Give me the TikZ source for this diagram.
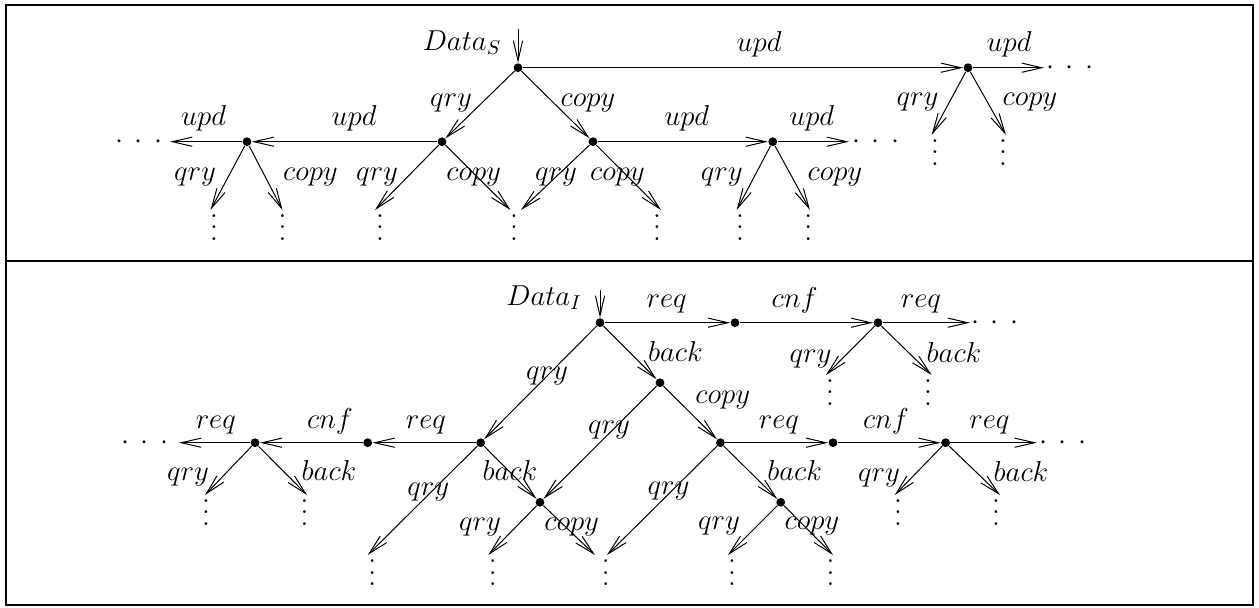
\documentclass[tikz,border=0pt]{standalone}
\usepackage{fix-cm}
\usetikzlibrary{arrows.meta}
\newcommand\myvdots{\vbox{\baselineskip5.75pt\lineskiplimit0pt\hbox{.}\hbox{.}\hbox{.}}}
\newcommand\myhdots{$\cdotp\kern3.5pt\cdotp\kern3.5pt\cdotp$}
\begin{document}
\begin{tikzpicture}[x=0.5pt,y=-0.5pt,
  font=\fontsize{14.4}{17}\selectfont,
  dot/.style={circle,fill,inner sep=0pt,minimum size=4.4pt},
  lbl/.style={inner sep=0pt,anchor=base},
  vd/.style={inner sep=0pt},
  hd/.style={inner sep=0pt,anchor=base},
  arr/.style={-{Straight Barb[length=10pt,width=4.6pt]},line width=0.5pt},
  frame/.style={line width=1.1pt}]
\useasboundingbox (0,0) rectangle (1259,607);
\draw[frame] (6,5) rectangle (1253,605);
\draw[frame] (6,261) -- (1253,261);
% ---------- top panel ----------
\node[dot] (A) at (518,67.7) {};
\node[dot] (B) at (968,67.7) {};
\node[dot] (C) at (442,141.7) {};
\node[dot] (D) at (593,141.7) {};
\node[dot] (E) at (247,141.7) {};
\node[dot] (F) at (772.7,141.7) {};
\coordinate (Ain) at (518,29);
\draw[arr] (Ain) -- (A);
\draw[arr] (A) -- (B);
\draw[arr] (A) -- (C);
\draw[arr] (A) -- (D);
\draw[arr] (C) -- (E);
\draw[arr] (D) -- (F);
\coordinate (Bt) at (1044,67.7); \draw[arr] (B) -- (Bt);
\node[hd] (Bd) at (1070,74.9) {\myhdots};
\coordinate (Et) at (170,141.7); \draw[arr] (E) -- (Et);
\node[hd] (Ed) at (139,148.9) {\myhdots};
\coordinate (Ft) at (849,141.7); \draw[arr] (F) -- (Ft);
\node[hd] (Fd) at (876,148.9) {\myhdots};
% leaves top
\coordinate (Bq) at (931.6,135); \draw[arr] (B) -- (Bq); \node[vd] (vBq) at (935,152.5) {\myvdots};
\coordinate (Bc) at (1006,135); \draw[arr] (B) -- (Bc); \node[vd] (vBc) at (1003,152.5) {\myvdots};
\coordinate (Eq) at (210.5,210); \draw[arr] (E) -- (Eq); \node[vd] (vEq) at (214,227.5) {\myvdots};
\coordinate (Ec) at (282.5,210); \draw[arr] (E) -- (Ec); \node[vd] (vEc) at (282.5,227.5) {\myvdots};
\coordinate (Cq) at (375,210); \draw[arr] (C) -- (Cq); \node[vd] (vCq) at (380,227.5) {\myvdots};
\coordinate (Cc) at (510.5,210); \draw[arr] (C) -- (Cc); \node[vd] (vCc) at (514,227.5) {\myvdots};
\coordinate (Dq) at (521,210); \draw[arr] (D) -- (Dq);
\coordinate (Dc) at (661,210); \draw[arr] (D) -- (Dc); \node[vd] (vDc) at (657,227.5) {\myvdots};
\coordinate (Fq) at (736.7,210); \draw[arr] (F) -- (Fq); \node[vd] (vFq) at (740,227.5) {\myvdots};
\coordinate (Fc) at (810,210); \draw[arr] (F) -- (Fc); \node[vd] (vFc) at (808.3,227.5) {\myvdots};
% labels top
\node[lbl] (tDS) at (462,50) {$Data_S$};
\node[lbl] (t1) at (759,51.7) {$upd$};
\node[lbl] (t2) at (1009,51.7) {$upd$};
\node[lbl] (t3) at (917.5,105) {$qry$};
\node[lbl] (t4) at (1030,105) {$copy$};
\node[lbl] (t5) at (451,106) {$qry$};
\node[lbl] (t6) at (588,106) {$copy$};
\node[lbl] (t7) at (354,125) {$upd$};
\node[lbl] (t8) at (203.5,125) {$upd$};
\node[lbl] (t9) at (686.7,125) {$upd$};
\node[lbl] (t10) at (811.7,125) {$upd$};
\node[lbl] (t11) at (195,180) {$qry$};
\node[lbl] (t12) at (310.5,180) {$copy$};
\node[lbl] (t13) at (377,180) {$qry$};
\node[lbl] (t14) at (473.7,180) {$copy$};
\node[lbl] (t15) at (556,180) {$qry$};
\node[lbl] (t16) at (617.5,180) {$copy$};
\node[lbl] (t17) at (721.7,180) {$qry$};
\node[lbl] (t18) at (835,180) {$copy$};
% ---------- bottom panel ----------
\node[dot] (R) at (600,322.7) {};
\node[dot] (G) at (735,322.7) {};
\node[dot] (H) at (878,322.7) {};
\node[dot] (K) at (660,382.7) {};
\node[dot] (J) at (480.7,442.7) {};
\node[dot] (L) at (540,502.3) {};
\node[dot] (M) at (720.4,442.7) {};
\node[dot] (N) at (367.7,442.7) {};
\node[dot] (O) at (255,442.7) {};
\node[dot] (P) at (780.7,502.3) {};
\node[dot] (Q) at (833,442.7) {};
\node[dot] (S) at (945.6,442.7) {};
\coordinate (Rin) at (600,290);
\draw[arr] (Rin) -- (R);
\draw[arr] (R) -- (G);
\draw[arr] (G) -- (H);
\draw[arr] (R) -- (J);
\draw[arr] (R) -- (K);
\draw[arr] (K) -- (L);
\draw[arr] (K) -- (M);
\draw[arr] (J) -- (N);
\draw[arr] (N) -- (O);
\draw[arr] (J) -- (L);
\draw[arr] (M) -- (P);
\draw[arr] (M) -- (Q);
\draw[arr] (Q) -- (S);
\coordinate (Ht) at (970,322.7); \draw[arr] (H) -- (Ht);
\node[hd] (Hd) at (995,329.9) {\myhdots};
\coordinate (Ot) at (179,442.7); \draw[arr] (O) -- (Ot);
\node[hd] (Od) at (145,449.9) {\myhdots};
\coordinate (St) at (1036.8,442.7); \draw[arr] (S) -- (St);
\node[hd] (Sd) at (1063,449.9) {\myhdots};
% leaves bottom
\coordinate (Hq) at (826,375); \draw[arr] (H) -- (Hq); \node[vd] (vHq) at (830,392.5) {\myvdots};
\coordinate (Hb) at (931.6,375); \draw[arr] (H) -- (Hb); \node[vd] (vHb) at (928,392.5) {\myvdots};
\coordinate (Oq) at (205,495); \draw[arr] (O) -- (Oq); \node[vd] (vOq) at (206,512.5) {\myvdots};
\coordinate (Ob) at (307,495); \draw[arr] (O) -- (Ob); \node[vd] (vOb) at (304.6,512.5) {\myvdots};
\coordinate (Sq) at (894.7,495); \draw[arr] (S) -- (Sq); \node[vd] (vSq) at (898,512.5) {\myvdots};
\coordinate (Sb) at (1000,495); \draw[arr] (S) -- (Sb); \node[vd] (vSb) at (996,512.5) {\myvdots};
\coordinate (Jq) at (367.7,555); \draw[arr] (J) -- (Jq); \node[vd] (vJq) at (372.3,573) {\myvdots};
\coordinate (Lq) at (488.3,555); \draw[arr] (L) -- (Lq); \node[vd] (vLq) at (492.7,573) {\myvdots};
\coordinate (Lc) at (595,555); \draw[arr] (L) -- (Lc); \node[vd] (vLc) at (605.7,573) {\myvdots};
\coordinate (Mq) at (607,555); \draw[arr] (M) -- (Mq);
\coordinate (Pq) at (728,555); \draw[arr] (P) -- (Pq); \node[vd] (vPq) at (732,573) {\myvdots};
\coordinate (Pc) at (833,555); \draw[arr] (P) -- (Pc); \node[vd] (vPc) at (830.5,573) {\myvdots};
% labels bottom
\node[lbl] (bDI) at (544,305) {$Data_I$};
\node[lbl] (b1) at (666.7,307.5) {$req$};
\node[lbl] (b2) at (794.7,307.5) {$cnf$};
\node[lbl] (b3) at (921,307.5) {$req$};
\node[lbl] (b4) at (810.5,362) {$qry$};
\node[lbl] (b5) at (954,362) {$back$};
\node[lbl] (b6) at (675.4,361) {$back$};
\node[lbl] (b7) at (547,379) {$qry$};
\node[lbl] (b8) at (722.8,403) {$copy$};
\node[lbl] (b9) at (609,433) {$qry$};
\node[lbl] (b10) at (426,428.3) {$req$};
\node[lbl] (b11) at (330,428.3) {$cnf$};
\node[lbl] (b12) at (215.8,428.3) {$req$};
\node[lbl] (b13) at (188,480) {$qry$};
\node[lbl] (b14) at (329,480) {$back$};
\node[lbl] (b15) at (428.3,495) {$qry$};
\node[lbl] (b16) at (510,480) {$back$};
\node[lbl] (b17) at (480,530) {$qry$};
\node[lbl] (b18) at (571.7,530) {$copy$};
\node[lbl] (b19) at (668.4,494) {$qry$};
\node[lbl] (b20) at (794.7,480) {$back$};
\node[lbl] (b21) at (719,529) {$qry$};
\node[lbl] (b22) at (812,529) {$copy$};
\node[lbl] (b23) at (779,428.3) {$req$};
\node[lbl] (b24) at (886,428.3) {$cnf$};
\node[lbl] (b25) at (989.5,428.3) {$req$};
\node[lbl] (b26) at (879,481) {$qry$};
\node[lbl] (b27) at (1021,481) {$back$};
\end{tikzpicture}
\end{document}
